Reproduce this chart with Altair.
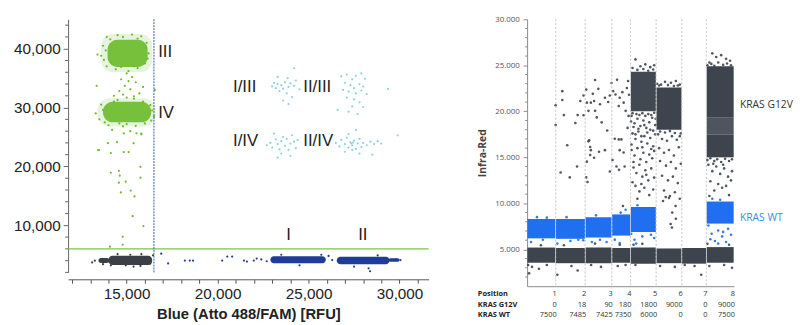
import altair as alt
import pandas as pd

# ================= LEFT PANEL (2-D ddPCR amplitude, RFU) =================
# dense cluster cores
green_core_x1 = [13950, 13700]
green_core_x2 = [16150, 16350]
green_core_y1 = [36900, 27500]
green_core_y2 = [41500, 31000]
green_halo_x1 = [13600, 13400]
green_halo_x2 = [16400, 16600]
green_halo_y1 = [36000, 26800]
green_halo_y2 = [42500, 31600]

low_core_x1 = [14000, 13450, 22900, 26550, 29400]
low_core_x2 = [16400, 14050, 25950, 29450, 30000]
low_core_y1 = [3250, 3600, 3550, 3400, 3800]
low_core_y2 = [4850, 4450, 4750, 4650, 4400]
low_core_grp = ["neg", "neg", "blue", "blue", "blue"]

green_pts = [
    (13900, 42000), (14500, 42300), (15300, 42400), (15800, 42100), (16100, 41000), (13700, 40500),
    (13600, 38800), (16200, 39200), (16000, 37500), (13900, 37000), (14400, 36500), (15100, 36200),
    (15600, 36700), (13400, 39000), (14100, 41600), (14800, 42000), (15600, 41700), (16050, 40200),
    (13850, 39700), (13750, 38100), (16150, 38300), (14700, 36900), (15400, 37000), (14150, 37700),
    (15000, 35800), (15300, 35200), (14700, 34800), (15500, 34300), (14900, 33700), (15200, 33100),
    (14600, 32800), (15700, 32400), (14300, 32000), (15000, 31700), (13350, 33700), (15900, 33500),
    (15100, 34500), (14800, 32200), (15400, 31900),
    (13300, 29000), (13500, 28000), (13600, 30500), (16400, 29500), (16500, 28500), (14000, 27000),
    (14800, 26800), (15500, 26900), (16000, 27300), (14500, 31300), (15400, 31500), (14200, 26200),
    (15200, 26000), (15800, 25600), (13700, 29600), (13800, 27500), (16300, 30400), (16350, 27800),
    (14300, 31000), (15900, 31000), (15000, 27200), (14600, 27300),
    (13480, 22780), (14130, 22280), (14840, 22450), (15110, 22450), (15380, 23950), (14460, 24120),
    (15810, 25460), (15540, 25630), (14840, 25630), (13970, 23950), (14130, 18930), (14570, 19260),
    (14620, 18430), (14570, 17250), (14950, 17420), (14680, 15580), (15220, 15910), (15430, 14910),
    (15760, 19930), (15760, 18090), (15330, 11560), (15920, 9880), (14780, 8040), (14780, 6700),
    (14080, 6370), (13430, 22780), (16550, 33000),
]
dark_pts = [
    (13100, 3700), (13250, 4000), (15380, 3000), (14950, 3200), (15810, 5100), (15760, 3100),
    (14130, 3200), (16450, 4900), (16300, 3500), (13700, 3400), (15200, 5000), (14500, 5100),
]
blue_pts = [
    (16900, 5190), (17280, 3520), (18200, 4020), (18470, 4020), (18650, 4020), (20250, 4020),
    (20530, 4690), (20800, 4690), (21450, 4020), (21610, 3850), (21990, 4020), (22150, 4360),
    (22400, 4200), (22700, 3900), (26100, 4800), (26300, 4100), (25700, 5000), (29800, 4200),
    (30050, 4100), (28380, 2200), (28300, 2700), (24500, 3200), (23500, 5000), (27500, 3000),
    (28800, 4900),
]
cyan_pts = [
    # I/III
    (23000, 33600), (23200, 33300), (23300, 34000), (23500, 33800), (23600, 33200), (23700, 34300),
    (23900, 33500), (24000, 34100), (24200, 33700), (24300, 34600), (23400, 32800), (23800, 32400),
    (24100, 31800), (23600, 31200), (23900, 30600), (24210, 36680), (23300, 35200), (24500, 33100),
    (23100, 34200), (23850, 35000),
    # II/III
    (26800, 35300), (27100, 35600), (27400, 34800), (27600, 35400), (27900, 35800), (28100, 34900),
    (27000, 34200), (27300, 33800), (27500, 33300), (27800, 34000), (28000, 33600), (26900, 33000),
    (27200, 32700), (27600, 32400), (27900, 32900), (28200, 32300), (27100, 31700), (27500, 31400),
    (27800, 30900), (27400, 30200), (28000, 30100), (26600, 29600), (27200, 29300), (27700, 28900),
    (29360, 33170),
    # I/IV
    (22900, 24000), (23000, 23200), (23200, 24600), (23300, 23800), (23400, 22900), (23500, 24300),
    (23600, 25000), (23700, 23500), (23800, 24700), (23900, 22800), (24000, 23900), (24100, 25300),
    (24200, 24200), (24300, 23100), (24400, 24500), (23100, 25600), (23500, 22200), (24000, 21800),
    (23300, 21500), (22700, 23600),
    # II/IV
    (26500, 24000), (26700, 23400), (26800, 24500), (27000, 23800), (27100, 24900), (27200, 23200),
    (27300, 24100), (27400, 23600), (27500, 24400), (27600, 23000), (27700, 23900), (27800, 24700),
    (27900, 23300), (28000, 24000), (28200, 23600), (28400, 24200), (28600, 23800), (28800, 24300),
    (29000, 23900), (27200, 25500), (27600, 26200), (27000, 22500), (27800, 22200), (28500, 22000),
    (27400, 22800), (29900, 25290), (27350, 23900), (27450, 24050),
]
threshold_y = [6000]
threshold_x = [16500]
left_labels = ["III", "IV", "I/III", "II/III", "I/IV", "II/IV", "I", "II"]
left_label_x = [16730, 16730, 20850, 24710, 20850, 24710, 23780, 27730]
left_label_y = [39360, 29030, 33550, 33550, 24290, 24290, 8375, 8375]
left_minor_y = [2000, 4000, 6000, 8000, 12000, 14000, 16000, 18000, 22000, 24000, 26000, 28000,
                32000, 34000, 36000, 38000, 42000, 44000]
left_x_ticks = list(range(12000, 31001, 1000))
left_y_ticks = [10000, 20000, 30000, 40000]

# ================= RIGHT PANEL (Infra-Red vs events) =================
col_edges = [0, 29, 59, 86, 105, 131, 157, 182, 210]
positions = ["1", "2", "3", "4", "5", "6", "7", "8"]
kras_g12v = [0, 18, 90, 180, 1800, 9000, 0, 9000]
kras_wt = [7500, 7485, 7425, 7350, 6000, 0, 0, 7500]

neg_lo = [3550, 3500, 3500, 3550, 3450, 3500, 3450, 3550]
neg_hi = [5200, 5150, 5200, 5150, 5200, 5100, 5150, 5250]
wt_lo = [6200, 6150, 6300, 6500, 6900, None, None, 7800]
wt_hi = [8300, 8300, 8500, 8800, 9600, None, None, 10200]
# mutant (G12V) dense regions: (x1, x2, y1, y2, shade)
mut_blocks = [
    (105, 131, 20000, 24300, "#434953"),
    (131, 157, 18000, 22600, "#3e444e"),
    (182, 210, 19300, 24900, "#3e444e"),
    (182, 210, 17500, 19300, "#4f555e"),
    (182, 210, 15000, 17500, "#3e444e"),
]
r_dark_pts = [
    (35.7, 22190), (35.7, 21230), (37.3, 19590), (29, 18520), (29, 20650), (40.7, 16310), (34, 13350),
    (43.3, 12820), (49, 18730), (51.3, 19590), (54, 21120), (57.3, 21720), (57.3, 19580), (60, 22360),
    (60.7, 20940), (62.3, 20050), (63, 16850), (64.7, 15780), (64, 15250), (60.7, 14530), (50.7, 14000),
    (60, 12820), (61.3, 12320), (66.7, 21900), (68, 21120), (69, 20050), (70.7, 19340), (72.3, 22440),
    (74, 20760), (75.7, 18800), (64.7, 20940), (68, 14960), (73, 15600), (79, 15780), (81.3, 17910),
    (82.3, 21010), (84, 21720), (85.7, 23080), (69, 23400), (79, 21470), (62.3, 16740), (64, 16130),
    (87.3, 22190), (89.7, 21830), (91.3, 23430), (93, 20580), (94, 21470), (96.7, 22080), (98, 20940),
    (100, 20050), (101.3, 22540), (89, 17020), (93, 16950), (95.7, 16950), (94, 15780), (86.7, 14710),
    (90.7, 14000), (93.3, 13640), (99, 14000), (98, 15530), (84, 13460), (97.3, 9720), (103, 19500),
    (102, 18200), (103.5, 21800), (102.5, 23300),
    # column 5 scatter
    (110, 25640), (115, 24900), (120, 25100), (125, 24800), (107, 24700), (129, 25000),
    (112, 24500), (118, 24600), (123, 24400), (128, 24550),
    (106, 19500), (109, 18700), (112, 19200), (115, 18400), (118, 19000), (121, 18200), (124, 18800),
    (127, 19300), (130, 18500), (107, 17600), (110, 17000), (113, 17800), (116, 16700), (119, 17300),
    (122, 16500), (125, 17100), (128, 16200), (130, 17500), (106, 15800), (109, 15200), (112, 16000),
    (115, 14800), (118, 15500), (121, 14500), (124, 15300), (127, 14900), (129, 15700), (108, 13900),
    (111, 13300), (114, 14200), (117, 12900), (120, 13600), (123, 12500), (126, 13800), (129, 12800),
    (110, 11900), (114, 11300), (119, 11700), (124, 10900), (128, 11500), (107, 12300), (112, 10500),
    (106, 16400), (117, 16100), (126, 15900), (108, 14500), (121, 13100), (116, 12100),
    (107, 19800), (111, 19700), (114, 19600), (117, 19800), (120, 19500), (123, 19700), (126, 19600),
    (129, 19850), (108, 18300), (113, 18100), (119, 18500), (125, 18000), (110, 17500), (122, 17700),
    (128, 17900), (116, 17300), (105.5, 18900), (130.5, 19200),
    # column 6 scatter
    (132, 23000), (136, 22900), (140, 23200), (146, 23100), (151, 23300), (155, 22900),
    (134, 22800), (143, 22850), (149, 22750), (153, 22800),
    (133, 17500), (137, 17000), (142, 16800), (147, 17300), (152, 16900), (156, 17600),
    (135, 17800), (140, 17700), (145, 17850), (150, 17650), (155, 17300),
    (134, 16000), (139, 15500), (144, 15800), (149, 15200), (154, 16100), (135, 14600),
    (141, 14100), (146, 14500), (151, 13800), (156, 14300), (137, 13000), (143, 12500),
    (148, 12900), (153, 12200), (139, 11400), (145, 10800), (150, 11200), (155, 10500),
    (140.7, 10680), (138, 10260), (147.3, 9000), (150.7, 9720), (145.7, 7760), (151, 8330),
    (147, 7370), (144, 10580),
    # column 8 scatter
    (188, 26300), (192, 25900), (197, 26100), (202, 25700), (185, 25300), (206, 25500),
    (183, 25000), (187, 25150), (190, 24950), (194, 25300), (199, 25050), (203, 25200), (207, 25000),
    (184, 14200), (188, 13500), (192, 14000), (196, 13200), (200, 13800), (204, 12900),
    (208, 13500), (186, 12400), (194, 12100), (202, 11900), (190, 11400), (198, 11700),
    (207, 12500), (185, 10800), (205, 10900),
    (183, 14700), (186, 14900), (190, 14600), (193, 14800), (197, 14500), (201, 14850), (205, 14600),
    (208, 14800), (189, 14300), (199, 14200),
    # around negative band
    (5, 3100), (12, 2900), (20, 3300), (2, 2400), (1, 3310), (30.7, 2240), (51.3, 2700),
    (45, 3200), (65, 3300), (75, 3100), (92, 3200), (100, 3300), (110, 3300), (135, 3200),
    (150, 3100), (176.7, 2240), (160, 3300), (170, 3200), (185, 3200), (208, 3000), (200, 3300),
    (14, 5450), (37.3, 5450), (69, 5630), (94, 5500), (108, 5500), (117, 5600), (183, 5600),
    (205, 5500),
]
r_blue_pts = [
    (4, 5800), (30.7, 5630), (44, 5910), (52, 6050), (65.7, 5800), (74, 6050), (80.7, 5800),
    (89, 6060), (94, 5700), (105.7, 6700), (109, 6050), (110.7, 5630), (117, 6410), (125.7, 6590),
    (129, 6230), (120, 7050), (10, 8500), (20, 8450), (40, 8500), (70, 8700), (95, 9000),
    (100, 9300), (112, 9800), (184, 7590), (187.3, 6700), (194, 7050), (198, 6410), (204, 7230),
    (207, 6590), (190.7, 5910), (202, 5800), (194, 5630), (186, 6100), (199, 6900), (196, 10400),
    (188, 10500), (16, 6050), (57, 6000),
]
right_minor_y = [2000, 3000, 4000, 6000, 7000, 8000, 9000, 11000, 12000, 13000, 14000, 16000,
                 17000, 18000, 19000, 21000, 22000, 23000, 24000, 26000, 27000, 28000, 29000]
right_y_ticks = [5000, 10000, 15000, 20000, 25000, 30000]
series_labels = ["KRAS G12V", "KRAS WT"]
series_label_y = [20730, 8440]
row_titles = ["Position", "KRAS G12V", "KRAS WT"]

# ----------------------------------------------------------------------
GREEN = "#6cbb2e"
DARK = "#3b3f48"
NAVY = "#1f3d98"
CYAN = "#8ed3dc"
RDARK = "#3e444e"
RBLUE = "#1f6ff0"

def pts_df(pts):
    return pd.DataFrame(pts, columns=["x", "y"])

def rect_df(x1, x2, y1, y2, **extra):
    d = pd.DataFrame({"x": x1, "x2": x2, "y": y1, "y2": y2})
    for k, v in extra.items():
        d[k] = v
    return d

# ---------- left chart ----------
xs = alt.Scale(domain=[11780, 31600], nice=False, zero=False)
ys = alt.Scale(domain=[2000, 45000], nice=False, zero=False)
x_axis = alt.Axis(
    values=left_x_ticks,
    labelExpr="datum.value % 5000 == 0 ? format(datum.value, ',') : ''",
    offset=7, tickSize=4, tickColor="#555", domainColor="#555", labelFont="Liberation Sans",
    labelFontSize=15.5, labelColor="#222", labelPadding=3, grid=False,
    title="Blue (Atto 488/FAM) [RFU]", titleFont="Liberation Sans", titleFontSize=15,
    titleFontWeight="bold", titleColor="#222", titlePadding=5,
)
y_axis = alt.Axis(
    values=left_y_ticks, labelExpr="format(datum.value, ',')", tickSize=5, tickColor="#666",
    domainColor="#666", labelFont="Liberation Sans", labelFontSize=15.5, labelColor="#222",
    labelPadding=3, grid=False, title=None,
)
LX = alt.X("x:Q", scale=xs, axis=x_axis)
LY = alt.Y("y:Q", scale=ys, axis=y_axis)

halo = alt.Chart(rect_df(green_halo_x1, green_halo_x2, green_halo_y1, green_halo_y2)).mark_rect(
    color=GREEN, opacity=0.16, cornerRadius=12
).encode(x=LX, x2="x2:Q", y=LY, y2="y2:Q")
gcore = alt.Chart(rect_df(green_core_x1, green_core_x2, green_core_y1, green_core_y2)).mark_rect(
    color=GREEN, opacity=0.92, cornerRadius=10
).encode(x=LX, x2="x2:Q", y=LY, y2="y2:Q")
lcore = alt.Chart(rect_df(low_core_x1, low_core_x2, low_core_y1, low_core_y2,
                          c=[DARK if g == "neg" else NAVY for g in low_core_grp])).mark_rect(
    cornerRadius=4
).encode(x=LX, x2="x2:Q", y=LY, y2="y2:Q", color=alt.Color("c:N", scale=None))
gp = alt.Chart(pts_df(green_pts)).mark_circle(size=5, color=GREEN, opacity=1).encode(x=LX, y=LY)
dp = alt.Chart(pts_df(dark_pts)).mark_circle(size=5, color=DARK, opacity=1).encode(x=LX, y=LY)
bp = alt.Chart(pts_df(blue_pts)).mark_circle(size=5, color=NAVY, opacity=1).encode(x=LX, y=LY)
cp = alt.Chart(pts_df(cyan_pts)).mark_circle(size=5, color=CYAN, opacity=1).encode(x=LX, y=LY)
hline = alt.Chart(pd.DataFrame({"y": threshold_y})).mark_rule(color="#7cc444", strokeWidth=1.5).encode(y=LY)
vline = alt.Chart(pd.DataFrame({"x": threshold_x})).mark_rule(
    color="#3557a8", strokeWidth=1, strokeDash=[2, 1]
).encode(x=LX)
lminor = alt.Chart(pd.DataFrame({"y": left_minor_y})).mark_rule(color="#666", strokeWidth=1).encode(
    y=LY, x=alt.value(-3), x2=alt.value(0)
)
ltext = alt.Chart(pd.DataFrame({"x": left_label_x, "y": left_label_y, "t": left_labels})).mark_text(
    align="left", baseline="middle", font="Liberation Sans", fontSize=17, color="#222"
).encode(x=LX, y=LY, text="t:N")

left = alt.layer(halo, gcore, lcore, gp, dp, bp, cp, hline, vline, lminor, ltext).properties(
    width=366, height=257
)

# ---------- right chart ----------
RH = 271
rxs = alt.Scale(domain=[0, 210], nice=False, zero=False)
rys = alt.Scale(domain=[1000, 30000], nice=False, zero=False)
rx_axis = alt.Axis(labels=False, ticks=False, title=None, domainColor="#8a8a8a", grid=False)
ry_axis = alt.Axis(
    values=right_y_ticks, labelExpr="format(datum.value / 1000, '.3f')",
    tickSize=4, tickColor="#8a8a8a", domainColor="#8a8a8a", labelFont="Open Sans", labelFontSize=8,
    labelColor="#555", labelPadding=4, grid=False, title="Infra-Red", titleFont="Open Sans",
    titleFontSize=10.5, titleFontWeight="bold", titleColor="#444", titlePadding=7,
)
RX = alt.X("x:Q", scale=rxs, axis=rx_axis)
RY = alt.Y("y:Q", scale=rys, axis=ry_axis)

blk_rows = []
for i in range(8):
    blk_rows.append((col_edges[i] + 0.3, col_edges[i + 1] - 0.3, neg_lo[i], neg_hi[i], RDARK))
    if wt_lo[i] is not None:
        blk_rows.append((col_edges[i] + 0.3, col_edges[i + 1] - 0.3, wt_lo[i], wt_hi[i], RBLUE))
for b in mut_blocks:
    blk_rows.append((b[0] + 0.3, b[1] - 0.3, b[2], b[3], b[4]))
blk_df = pd.DataFrame(blk_rows, columns=["x", "x2", "y", "y2", "c"])

blocks = alt.Chart(blk_df).mark_rect().encode(
    x=RX, x2="x2:Q", y=RY, y2="y2:Q",
    color=alt.Color("c:N", scale=None),
)
rdp = alt.Chart(pts_df(r_dark_pts)).mark_circle(size=7, color=RDARK, opacity=0.9).encode(x=RX, y=RY)
rbp = alt.Chart(pts_df(r_blue_pts)).mark_circle(size=7, color=RBLUE, opacity=0.9).encode(x=RX, y=RY)
grid = alt.Chart(pd.DataFrame({"x": col_edges[1:-1]})).mark_rule(
    color="#cfcfcf", strokeWidth=0.8, strokeDash=[2, 2]
).encode(x=RX)
rminor = alt.Chart(pd.DataFrame({"y": right_minor_y})).mark_rule(color="#8a8a8a", strokeWidth=1).encode(
    y=RY, x=alt.value(-2), x2=alt.value(0)
)
slab = alt.Chart(pd.DataFrame({"x": [216, 216], "y": series_label_y, "t": series_labels,
                               "c": ["#333333", "#3a8ee6"]})).mark_text(
    align="left", baseline="middle", font="Open Sans", fontSize=10.5
).encode(x=RX, y=RY, text="t:N", color=alt.Color("c:N", scale=None))

tbl = pd.DataFrame({"x": col_edges[1:], "pos": positions, "g": [str(v) for v in kras_g12v],
                    "w": [str(v) for v in kras_wt]})
row_off = [RH + 8, RH + 19, RH + 29]
t_pos = alt.Chart(tbl).mark_text(align="right", baseline="middle", font="Open Sans", fontSize=7.5,
                                 color="#333", dx=1).encode(x=RX, y=alt.value(row_off[0]), text="pos:N")
t_g = alt.Chart(tbl).mark_text(align="right", baseline="middle", font="Open Sans", fontSize=7.5,
                               color="#333", dx=1).encode(x=RX, y=alt.value(row_off[1]), text="g:N")
t_w = alt.Chart(tbl).mark_text(align="right", baseline="middle", font="Open Sans", fontSize=7.5,
                               color="#333", dx=1).encode(x=RX, y=alt.value(row_off[2]), text="w:N")
hdr = alt.Chart(pd.DataFrame({"t": row_titles, "yy": row_off})).mark_text(
    align="left", baseline="middle", font="Open Sans", fontSize=7.5, fontWeight="bold", color="#222"
).encode(x=alt.value(-50), y=alt.Y("yy:Q", scale=None), text="t:N")

right = alt.layer(grid, blocks, rdp, rbp, grid, rminor, slab, t_pos, t_g, t_w, hdr).properties(
    width=210, height=RH
)

chart = alt.hconcat(left, right, spacing=100, bounds="flush").configure_view(stroke=None)
chart.save("out.html", embed_options={"renderer": "svg", "actions": False})
